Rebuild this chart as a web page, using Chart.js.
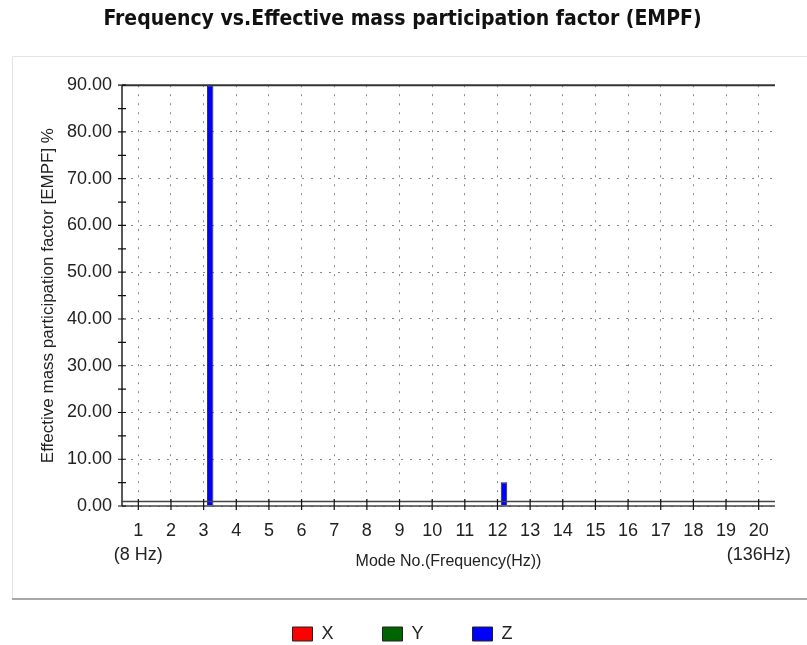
<!DOCTYPE html>
<html>
<head>
<meta charset="utf-8">
<script src="https://cdn.jsdelivr.net/npm/chart.js@4.4.0/dist/chart.umd.min.js"></script>
<style>
html,body{margin:0;padding:0;background:#fff}
</style>
</head>
<body>
<canvas id="myChart" width="807" height="645"></canvas>
<script>
var modes=['1','2','3','4','5','6','7','8','9','10','11','12','13','14','15','16','17','18','19','20']
var freqNotes=['(8 Hz)','','','','','','','','','','','','','','','','','','','(136Hz)']
var xData=[0,0,0,0,0,0,0,0,0,0,0,0,0,0,0,0,0,0,0,0]
var yData=[0,0,0,0,0,0,0,0,0,0,0,0,0,0,0,0,0,0,0,0]
var zData=[0,0,90,0,0,0,0,0,0,0,0,5.1,0,0,0,0,0,0,0,0]

var labels=modes.map(function(m,i){
    return freqNotes[i] ? [m,freqNotes[i]] : m
})

// grey panel behind the plot
var panel={
    id:'panel',
    beforeDraw:function(chart){
        var c=chart.ctx
        c.save()
        c.fillStyle='#fff'
        c.fillRect(0,0,chart.width,chart.height)
        c.strokeStyle='#e4e4e4'
        c.lineWidth=1
        c.beginPath()
        c.moveTo(12.5,599)
        c.lineTo(12.5,56.5)
        c.lineTo(chart.width,56.5)
        c.stroke()
        c.strokeStyle='#a8a8a8'
        c.lineWidth=2
        c.beginPath()
        c.moveTo(12,599)
        c.lineTo(chart.width,599)
        c.stroke()
        c.restore()
    }
}

// axis lines, double base line and tick marks
var axes={
    id:'axes',
    afterDatasetsDraw:function(chart){
        var c=chart.ctx
        var a=chart.chartArea
        var xs=chart.scales.x, ys=chart.scales.y
        c.save()
        c.strokeStyle='#222'
        c.lineWidth=1.5
        c.beginPath()
        c.moveTo(a.left,a.top)
        c.lineTo(a.left,a.bottom)
        c.stroke()
        c.strokeStyle='#333'
        c.lineWidth=2
        c.beginPath()
        c.moveTo(a.left,a.top)
        c.lineTo(a.right,a.top)
        c.stroke()
        c.strokeStyle='#444'
        c.lineWidth=1.5
        c.beginPath()
        c.moveTo(a.left,a.bottom-4.5)
        c.lineTo(a.right,a.bottom-4.5)
        c.moveTo(a.left,a.bottom)
        c.lineTo(a.right,a.bottom)
        c.stroke()
        c.strokeStyle='#111'
        c.lineWidth=1.2
        c.beginPath()
        for(var v=0;v<=90;v+=5){
            var py=ys.getPixelForValue(v)
            c.moveTo(a.left-4,py)
            c.lineTo(a.left+4,py)
        }
        for(var i=0;i<modes.length;i++){
            var px=xs.getPixelForValue(i)
            c.moveTo(px,a.bottom-7)
            c.lineTo(px,a.bottom+4)
        }
        c.stroke()
        c.restore()
    }
}

var ctx=document.getElementById('myChart')
var myChart=new Chart(ctx,{
    type:'bar',
    data:{
        labels:labels,
        datasets:[{
            label:'X',
            data:xData,
            backgroundColor:'#ff0000',
            borderColor:'#222',
            borderWidth:1,
        },{
            label:'Y',
            data:yData,
            backgroundColor:'#006400',
            borderColor:'#222',
            borderWidth:1,
        },{
            label:'Z',
            data:zData,
            backgroundColor:'#0000ff',
            borderColor:'#222',
            borderWidth:1,
        }]
    },
    plugins:[panel,axes],
    options:{
        responsive:false,
        animation:false,
        categoryPercentage:0.6,
        barPercentage:1,
        layout:{padding:{left:30,right:32,top:0,bottom:-8}},
        plugins:{
            title:{
                display:true,
                text:'Frequency vs.Effective mass participation factor (EMPF)',
                color:'#111',
                font:{family:"'Liberation Sans Narrow','DejaVu Sans Condensed',Arial,sans-serif",size:21,weight:'bold'},
                padding:{top:7,bottom:53}
            },
            legend:{
                position:'bottom',
                labels:{
                    boxWidth:20,
                    boxHeight:14,
                    padding:49,
                    color:'#222',
                    font:{family:"'Liberation Sans',Arial,sans-serif",size:18}
                }
            },
            tooltip:{enabled:false}
        },
        scales:{
            x:{
                afterFit:function(s){s.height=70},
                grid:{offset:false,color:'#888',lineWidth:1,drawTicks:false},
                border:{display:false,dash:[2,7]},
                ticks:{
                    color:'#222',
                    padding:13,
                    maxRotation:0,
                    autoSkip:false,
                    font:{family:"'Liberation Sans',Arial,sans-serif",size:18,lineHeight:1.35}
                },
                title:{
                    display:true,
                    text:'Mode No.(Frequency(Hz))',
                    color:'#222',
                    font:{family:"'Liberation Sans',Arial,sans-serif",size:16},
                    padding:{top:0,bottom:5}
                }
            },
            y:{
                min:0,
                max:90,
                afterFit:function(s){s.width=92},
                grid:{color:'#888',lineWidth:1,drawTicks:false},
                border:{display:false,dash:[2,7]},
                ticks:{
                    stepSize:10,
                    color:'#222',
                    padding:10,
                    font:{family:"'Liberation Sans',Arial,sans-serif",size:18},
                    callback:function(v){return v.toFixed(2)}
                },
                title:{
                    display:true,
                    text:'Effective mass participation factor [EMPF] %',
                    color:'#222',
                    font:{family:"'Liberation Sans',Arial,sans-serif",size:17},
                    padding:{top:8,bottom:0}
                }
            }
        }
    }
})
</script>
</body>
</html>
